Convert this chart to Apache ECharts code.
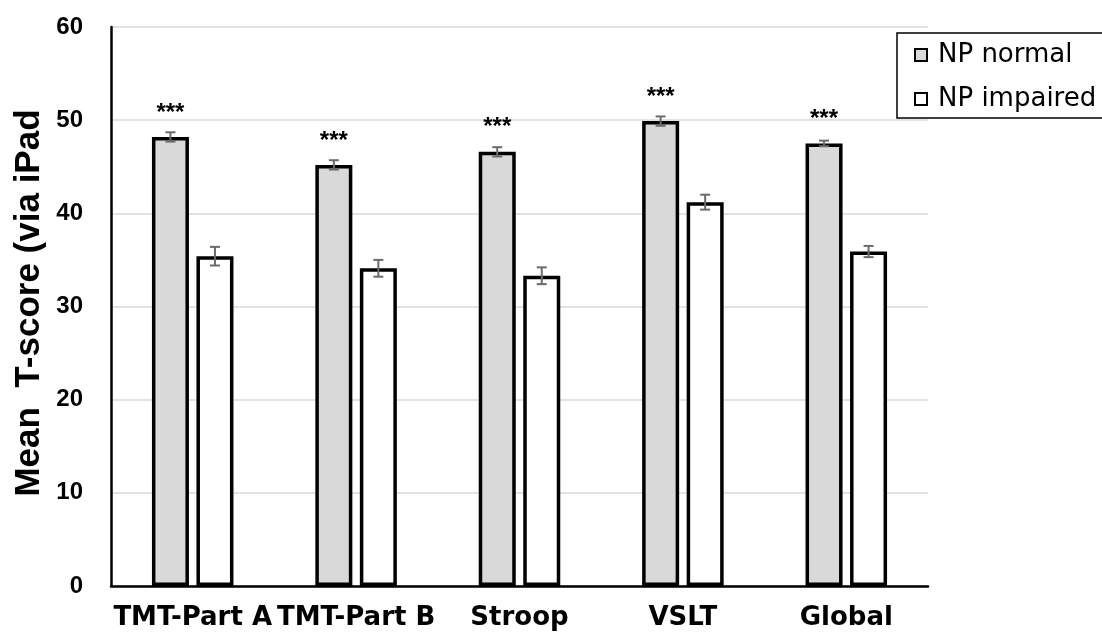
<!DOCTYPE html>
<html>
<head>
<meta charset="utf-8">
<script src="https://cdn.jsdelivr.net/npm/echarts@6/dist/echarts.min.js"></script>
<style>
  html, body { margin: 0; padding: 0; background: #fff; }
  #chart { width: 1102px; height: 635px; }
</style>
</head>
<body>
<div id="chart"></div>
<script>
// ---- data ----
var categories = ['TMT-Part A', 'TMT-Part B', 'Stroop', 'VSLT', 'Global'];
var seriesNames = ['NP normal', 'NP impaired'];
var normalMean = [48.2, 45.2, 46.6, 49.9, 47.5];
var normalErr = [0.5, 0.5, 0.5, 0.5, 0.3];
var impairedMean = [35.4, 34.1, 33.3, 41.2, 35.9];
var impairedErr = [1.0, 0.9, 0.9, 0.8, 0.6];
var sigMarks = ['***', '***', '***', '***', '***'];
var yTicks = [0, 10, 20, 30, 40, 50, 60];
var yTitle = 'Mean  T-score (via iPad';

// ---- layout / style constants ----
var BAR_W = 37;
var GAP_RATIO = 0.203;
var HALF_SHIFT = (BAR_W + BAR_W * GAP_RATIO) / 2;
var FONT = '"Liberation Sans", Arial, sans-serif';
var WIDE_FONT = '"DejaVu Sans", "Liberation Sans", sans-serif';

function errorSeries(means, errs, shift) {
  var data = means.map(function (m, i) { return [i, m, errs[i]]; });
  return {
    type: 'custom',
    silent: true,
    z: 5,
    data: data,
    renderItem: function (params, api) {
      var i = api.value(0), m = api.value(1), e = api.value(2);
      var top = api.coord([i, m + e]);
      var bot = api.coord([i, m - e]);
      var x = top[0] + shift;
      var cap = 5;
      var st = { stroke: '#6b6b6b', lineWidth: 2 };
      return {
        type: 'group',
        children: [
          { type: 'line', shape: { x1: x, y1: top[1], x2: x, y2: bot[1] }, style: st },
          { type: 'line', shape: { x1: x - cap, y1: top[1], x2: x + cap, y2: top[1] }, style: st },
          { type: 'line', shape: { x1: x - cap, y1: bot[1], x2: x + cap, y2: bot[1] }, style: st }
        ]
      };
    }
  };
}

var chart = echarts.init(document.getElementById('chart'), null, { renderer: 'canvas' });
chart.setOption({
  animation: false,
  backgroundColor: '#ffffff',
  textStyle: { fontFamily: FONT },
  grid: { left: 111, right: 174, top: 27, bottom: 49, containLabel: false },
  legend: {
    data: seriesNames,
    orient: 'vertical',
    left: 897,
    top: 33,
    padding: [9, 8, 6, 17],
    itemGap: 18,
    itemWidth: 12,
    itemHeight: 12,
    icon: 'rect',
    borderColor: '#000',
    borderWidth: 1.5,
    textStyle: { fontFamily: WIDE_FONT, fontSize: 26, color: '#000', padding: [0, 0, 0, 6] }
  },
  graphic: [{
    type: 'text',
    x: 29,
    y: 303,
    rotation: Math.PI / 2,
    style: {
      text: yTitle,
      font: 'bold 35px ' + FONT,
      fill: '#000',
      textAlign: 'center',
      textVerticalAlign: 'middle'
    }
  }],
  xAxis: {
    type: 'category',
    data: categories,
    axisLine: { lineStyle: { color: '#000', width: 2.5 } },
    axisTick: { show: false },
    axisLabel: {
      interval: 0,
      color: '#000',
      fontFamily: WIDE_FONT,
      fontWeight: 'bold',
      fontSize: 26,
      margin: 19
    },
    splitLine: { show: false }
  },
  yAxis: {
    type: 'value',
    min: yTicks[0],
    max: yTicks[yTicks.length - 1],
    interval: yTicks[1] - yTicks[0],
    axisLine: { show: true, lineStyle: { color: '#000', width: 2.5 } },
    axisTick: { show: false },
    axisLabel: { color: '#000', fontFamily: FONT, fontWeight: 'bold', fontSize: 24, margin: 28 },
    splitLine: { show: true, lineStyle: { color: '#d9d9d9', width: 1.5 } }
  },
  series: [
    {
      name: seriesNames[0],
      type: 'bar',
      data: normalMean,
      barWidth: BAR_W,
      barGap: (GAP_RATIO * 100) + '%',
      itemStyle: { color: '#d9d9d9', borderColor: '#000', borderWidth: 3.5 },
      label: {
        show: true,
        position: 'top',
        distance: 12,
        formatter: function (p) { return sigMarks[p.dataIndex]; },
        color: '#000',
        fontFamily: FONT,
        fontWeight: 'bold',
        fontSize: 24
      }
    },
    {
      name: seriesNames[1],
      type: 'bar',
      data: impairedMean,
      barWidth: BAR_W,
      barGap: (GAP_RATIO * 100) + '%',
      itemStyle: { color: '#ffffff', borderColor: '#000', borderWidth: 3.5 }
    },
    errorSeries(normalMean, normalErr, -HALF_SHIFT),
    errorSeries(impairedMean, impairedErr, HALF_SHIFT)
  ]
});
</script>
</body>
</html>
